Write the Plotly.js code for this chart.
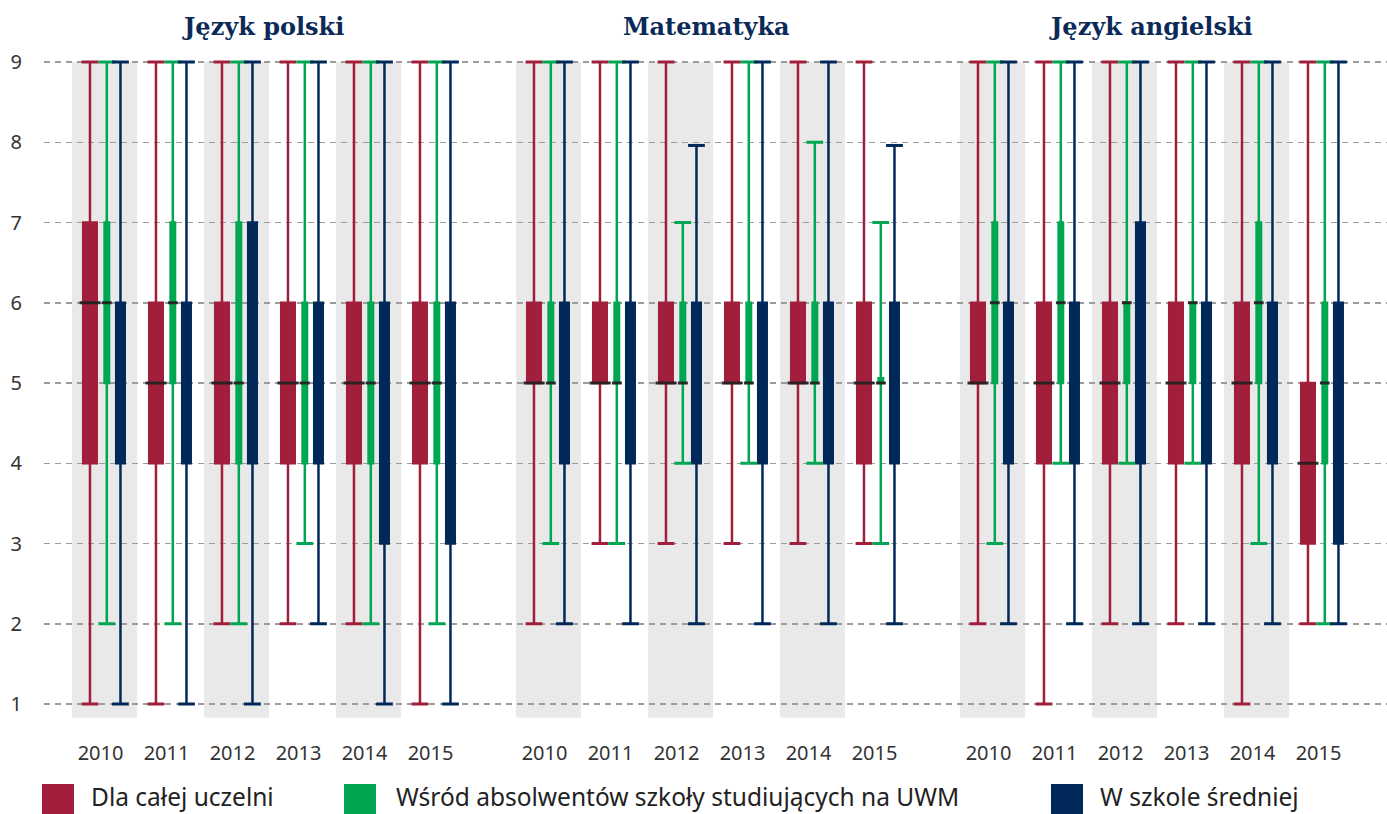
<!DOCTYPE html>
<html>
<head>
<meta charset="utf-8">
<script src="https://cdn.plot.ly/plotly-3.0.1.min.js"></script>
<style>html,body{margin:0;padding:0;background:#fff;}#chart{width:1387px;height:814px;}</style>
</head>
<body>
<div id="chart"></div>
<script>
// ---------- DATA ----------
const subjects = ['Język polski', 'Matematyka', 'Język angielski'];
const years = ['2010', '2011', '2012', '2013', '2014', '2015'];
const seriesNames = ['Dla całej uczelni', 'Wśród absolwentów szkoły studiujących na UWM', 'W szkole średniej'];

// order: polski 2010-2015, matematyka 2010-2015, angielski 2010-2015
const uczelniaMin = [1,1,2,2,2,1, 2,3,3,3,3,3, 2,1,2,2,1,2];
const uczelniaQ1  = [4,4,4,4,4,4, 5,5,5,5,5,4, 5,4,4,4,4,3];
const uczelniaMed = [6,5,5,5,5,5, 5,5,5,5,5,5, 5,5,5,5,5,4];
const uczelniaQ3  = [7,6,6,6,6,6, 6,6,6,6,6,6, 6,6,6,6,6,5];
const uczelniaMax = [9,9,9,9,9,9, 9,9,9,9,9,9, 9,9,9,9,9,9];

const absolwenciMin = [2,2,2,3,2,2, 3,3,4,4,4,3, 3,4,4,4,3,2];
const absolwenciQ1  = [5,5,4,4,4,4, 5,5,5,5,5,5, 5,5,5,5,5,4];
const absolwenciMed = [6,6,5,5,5,5, 5,5,5,5,5,5, 6,6,6,6,6,5];
const absolwenciQ3  = [7,7,7,6,6,6, 6,6,6,6,6,5.06, 7,7,6,6,7,6];
const absolwenciMax = [9,9,9,9,9,9, 9,9,7,9,8,7, 9,9,9,9,9,9];

const szkolaMin = [1,1,1,2,1,1, 2,2,2,2,2,2, 2,2,2,2,2,2];
const szkolaQ1  = [4,4,4,4,3,3, 4,4,4,4,4,4, 4,4,4,4,4,3];
const szkolaMed = [5,5,5,5,5,5, 5,5,5,5,5,5, 5,5,5,5,5,5];
const szkolaQ3  = [6,6,7,6,6,6, 6,6,6,6,6,6, 6,6,7,6,6,6];
const szkolaMax = [9,9,9,9,9,9, 9,9,7.96,9,9,7.96, 9,9,9,9,9,9];

// ---------- STYLE / GEOMETRY ----------
const colors = ['#a21f3b', '#00a651', '#00295a'];
const PANEL_STEP = 444 / 66;          // distance between panels in year units
const offsets = [-0.22, 0.035, 0.242]; // series offset inside a year slot
const boxWidths = [0.205, 0.068, 0.129];
const boxPx = [16, 8, 11];

const L = 44, T = 22, W = 1343, H = 714;
const px2x = p => (p - L) / W;
const py2y = p => (T + H - p) / H;

const groupPos = [];
subjects.forEach((s, p) => years.forEach((y, i) => groupPos.push(p * PANEL_STEP + i)));

const stats = [
  [uczelniaMin, uczelniaQ1, uczelniaMed, uczelniaQ3, uczelniaMax],
  [absolwenciMin, absolwenciQ1, absolwenciMed, absolwenciQ3, absolwenciMax],
  [szkolaMin, szkolaQ1, szkolaMed, szkolaQ3, szkolaMax]
];

const traces = [];
stats.forEach((s, k) => {
  const xs = groupPos.map(v => v + offsets[k]);
  traces.push({
    type: 'box', orientation: 'v', name: seriesNames[k],
    x: xs, lowerfence: s[0], q1: s[1], median: s[2], q3: s[3], upperfence: s[4],
    width: boxWidths[k], whiskerwidth: 0, boxpoints: false,
    line: {color: colors[k], width: 2.5}, fillcolor: colors[k],
    showlegend: false, hoverinfo: 'y'
  });
});
stats.forEach((s, k) => {
  const xs = groupPos.map(v => v + offsets[k]);
  traces.push({
    type: 'scatter', mode: 'markers', x: xs.concat(xs), y: s[0].concat(s[4]),
    marker: {symbol: 'line-ew', size: 12, line: {width: 3, color: colors[k]}},
    cliponaxis: false, showlegend: false, hoverinfo: 'skip'
  });
});
// dark median lines for the first two series
[0, 1].forEach(k => {
  const xs = groupPos.map(v => v + offsets[k]);
  traces.push({
    type: 'scatter', mode: 'markers', x: xs, y: stats[k][2],
    marker: {symbol: 'line-ew', size: boxPx[k] - 1, line: {width: 3, color: 'rgba(35,30,32,0.92)'}},
    showlegend: false, hoverinfo: 'skip'
  });
});

// shaded bands for 2010, 2012, 2014
const shapes = [];
groupPos.forEach((v, idx) => {
  if ((idx % 6) % 2 === 0) {
    shapes.push({type: 'rect', xref: 'x', yref: 'y', x0: v - 0.492, x1: v + 0.492, y0: 0.83, y1: 9,
      fillcolor: '#e8e9e8', line: {width: 0}, layer: 'below'});
  }
});

// custom legend
const legendItems = [
  {sq: 42, tx: 89},
  {sq: 344, tx: 394},
  {sq: 1051, tx: 1098}
];
const annotations = [];
legendItems.forEach((it, k) => {
  shapes.push({type: 'rect', xref: 'paper', yref: 'paper',
    x0: px2x(it.sq), x1: px2x(it.sq + 32), y0: py2y(814), y1: py2y(784),
    fillcolor: colors[k], line: {width: 0}});
  annotations.push({xref: 'paper', yref: 'paper', x: px2x(it.tx), y: py2y(797),
    xanchor: 'left', yanchor: 'middle', showarrow: false, text: seriesNames[k],
    font: {family: 'Noto Sans, sans-serif', size: 24.5, color: '#222'}});
});
subjects.forEach((s, p) => {
  annotations.push({xref: 'x', yref: 'paper', x: p * PANEL_STEP + 2.5 - 0.1, y: py2y(27),
    xanchor: 'center', yanchor: 'middle', showarrow: false, text: '<b>' + s + '</b>',
    font: {family: 'DejaVu Serif, serif', size: 24, color: '#0c2a58'}});
});

const tickvals = groupPos.map(v => v - 0.06);
const ticktext = [];
subjects.forEach(() => years.forEach(y => ticktext.push(y)));

const layout = {
  width: 1387, height: 814,
  margin: {l: L, r: 0, t: T, b: 814 - T - H, pad: 0},
  paper_bgcolor: '#fff', plot_bgcolor: 'rgba(0,0,0,0)',
  showlegend: false,
  xaxis: {range: [(L - 104.5) / 66, (L + W - 104.5) / 66], tickvals: tickvals, ticktext: ticktext,
    showgrid: false, zeroline: false, showline: false, ticks: '', ticklabelstandoff: 3,
    tickfont: {family: 'Noto Sans, sans-serif', size: 20, color: '#333'}, fixedrange: true},
  yaxis: {range: [1 - (T + H - 704) / 80.25, 9 + (62 - T) / 80.25], tick0: 1, dtick: 1,
    showgrid: true, gridcolor: '#9c9c9c', gridwidth: 1.5, griddash: '6px,5px',
    zeroline: false, showline: false, ticks: '', ticklabelstandoff: 21,
    tickfont: {family: 'Noto Sans, sans-serif', size: 20, color: '#333'}, fixedrange: true},
  shapes: shapes,
  annotations: annotations,
  boxmode: 'overlay'
};

Plotly.newPlot('chart', traces, layout, {displayModeBar: false, staticPlot: true});
</script>
</body>
</html>
